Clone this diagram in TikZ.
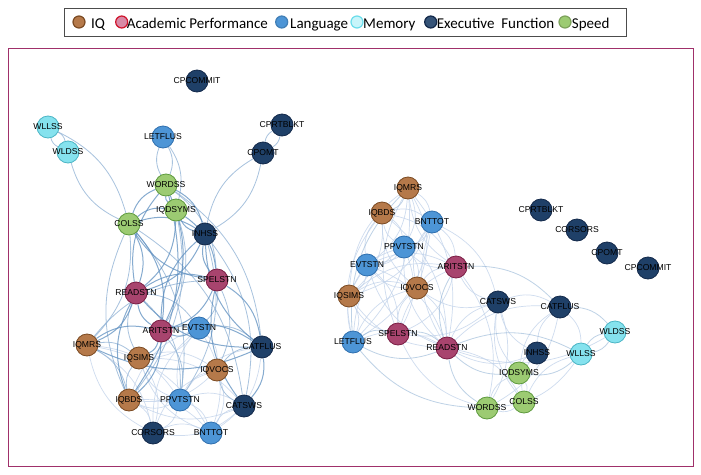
\documentclass[tikz,border=0pt]{standalone}
\usepackage{fontspec}
\setmainfont{Liberation Sans}
\newfontfamily\legendfont{Carlito}
\pgfdeclarelayer{bg}
\pgfdeclarelayer{edges}
\pgfsetlayers{bg,edges,main}
\definecolor{iqF}{HTML}{B5794A}\definecolor{iqD}{HTML}{7B4A22}
\definecolor{acF}{HTML}{A8446E}\definecolor{acD}{HTML}{7A1E44}
\definecolor{lgF}{HTML}{4D95D6}\definecolor{lgD}{HTML}{2F6FAE}
\definecolor{mmF}{HTML}{85E2EE}\definecolor{mmD}{HTML}{4BB5C5}
\definecolor{exF}{HTML}{1F4068}\definecolor{exD}{HTML}{13294A}
\definecolor{spF}{HTML}{9CCB72}\definecolor{spD}{HTML}{5E9A3E}
\definecolor{frm}{HTML}{A0306A}
\definecolor{eS}{HTML}{5E8FC0}\definecolor{eM}{HTML}{93B4D6}\definecolor{eP}{HTML}{C3D4EB}
\definecolor{lacF}{HTML}{D88AA6}\definecolor{lacD}{HTML}{D0142C}
\definecolor{lmmF}{HTML}{C8F5FA}\definecolor{lmmD}{HTML}{6BDDEB}
\begin{document}
\begin{tikzpicture}[x=1pt,y=-1pt,
  vtx/.style={circle,minimum size=22pt,inner sep=0pt,line width=0.8pt,
    font=\fontsize{8.6}{8.6}\selectfont,text=black},
  iq/.style={vtx,fill=iqF,draw=iqD},
  ac/.style={vtx,fill=acF,draw=acD},
  lg/.style={vtx,fill=lgF,draw=lgD},
  mm/.style={vtx,fill=mmF,draw=mmD},
  ex/.style={vtx,fill=exF,draw=exD},
  sp/.style={vtx,fill=spF,draw=spD},
  lgc/.style={circle,minimum size=12pt,inner sep=0pt,line width=1.2pt},
  lgt/.style={anchor=base west,inner sep=0pt,font=\legendfont\fontsize{15}{15}\selectfont},
  eStrong/.style={draw=eS,line width=1pt,draw opacity=0.75},
  eMid/.style={draw=eM,line width=0.8pt,draw opacity=0.8},
  ePale/.style={draw=eP,line width=0.7pt,draw opacity=0.8}]
\useasboundingbox (0,0) rectangle (701,474);
\begin{pgfonlayer}{bg}
\fill[white] (0,0) rectangle (701,474);
\end{pgfonlayer}
% frames
\draw[frm,line width=0.9pt] (8,48) rectangle (693,466);
\draw[black!70,line width=0.8pt] (64,8) rectangle (626,36);
% legend
\node[lgc,fill=iqF,draw=iqD] (kiq) at (79,22) {};
\node[lgt] (tiq) at (91,28.3) {IQ};
\node[lgc,fill=lacF,draw=lacD] (kac) at (121.7,22) {};
\node[lgt] (tac) at (126.7,28.3) {Academic Performance};
\node[lgc,fill=lgF,draw=lgF!85!black] (klg) at (281.7,22) {};
\node[lgt] (tlg) at (290,28.3) {Language};
\node[lgc,fill=lmmF,draw=lmmD] (kmm) at (357,22) {};
\node[lgt] (tmm) at (363,28.3) {Memory};
\node[lgc,fill=exF!90!white,draw=exD] (kex) at (430.7,22) {};
\node[lgt] (tex) at (436.7,28.3) {Executive\ \ Function};
\node[lgc,fill=spF,draw=spF!80!black] (ksp) at (565,22) {};
\node[lgt] (tsp) at (571.7,28.3) {Speed};
% left network nodes
\node[ex] (Lcpcommit) at (197,81) {\makebox[0pt]{CPCOMMIT}};
\node[mm] (Lwllss) at (48,127) {\makebox[0pt]{WLLSS}};
\node[mm] (Lwldss) at (68,152) {\makebox[0pt]{WLDSS}};
\node[lg] (Lletflus) at (163,137) {\makebox[0pt]{LETFLUS}};
\node[ex] (Lcprtblkt) at (282,125) {\makebox[0pt]{CPRTBLKT}};
\node[ex] (Lcpomt) at (263,153) {\makebox[0pt]{CPOMT}};
\node[sp] (Lwordss) at (166,185) {\makebox[0pt]{WORDSS}};
\node[sp] (Liqdsyms) at (176,210) {\makebox[0pt]{IQDSYMS}};
\node[sp] (Lcolss) at (129,224) {\makebox[0pt]{COLSS}};
\node[ex] (Linhss) at (205,234) {\makebox[0pt]{INHSS}};
\node[ac] (Lreadstn) at (136,293) {\makebox[0pt]{READSTN}};
\node[ac] (Lspelstn) at (217,280) {\makebox[0pt]{SPELSTN}};
\node[ac] (Laritstn) at (161,331) {\makebox[0pt]{ARITSTN}};
\node[lg] (Levtstn) at (199,328) {\makebox[0pt]{EVTSTN}};
\node[iq] (Liqmrs) at (87,345) {\makebox[0pt]{IQMRS}};
\node[iq] (Liqsims) at (139,358) {\makebox[0pt]{IQSIMS}};
\node[ex] (Lcatflus) at (262,347) {\makebox[0pt]{CATFLUS}};
\node[iq] (Liqvocs) at (217,370) {\makebox[0pt]{IQVOCS}};
\node[iq] (Liqbds) at (129,400) {\makebox[0pt]{IQBDS}};
\node[lg] (Lppvtstn) at (180,400) {\makebox[0pt]{PPVTSTN}};
\node[ex] (Lcatsws) at (244,406) {\makebox[0pt]{CATSWS}};
\node[ex] (Lcorsors) at (153,433) {\makebox[0pt]{CORSORS}};
\node[lg] (Lbnttot) at (211,433) {\makebox[0pt]{BNTTOT}};
% right network nodes
\node[iq] (Riqmrs) at (408,188) {\makebox[0pt]{IQMRS}};
\node[iq] (Riqbds) at (382,213) {\makebox[0pt]{IQBDS}};
\node[lg] (Rbnttot) at (432,222) {\makebox[0pt]{BNTTOT}};
\node[lg] (Rppvtstn) at (404,247) {\makebox[0pt]{PPVTSTN}};
\node[lg] (Revtstn) at (367,265) {\makebox[0pt]{EVTSTN}};
\node[ac] (Raritstn) at (456,267) {\makebox[0pt]{ARITSTN}};
\node[iq] (Riqvocs) at (417,288) {\makebox[0pt]{IQVOCS}};
\node[iq] (Riqsims) at (349,296) {\makebox[0pt]{IQSIMS}};
\node[ex] (Rcatsws) at (498,302) {\makebox[0pt]{CATSWS}};
\node[ex] (Rcatflus) at (560,307) {\makebox[0pt]{CATFLUS}};
\node[ac] (Rspelstn) at (398,334) {\makebox[0pt]{SPELSTN}};
\node[lg] (Rletflus) at (353,342) {\makebox[0pt]{LETFLUS}};
\node[ac] (Rreadstn) at (447,348) {\makebox[0pt]{READSTN}};
\node[mm] (Rwldss) at (615,332) {\makebox[0pt]{WLDSS}};
\node[ex] (Rinhss) at (537,353) {\makebox[0pt]{INHSS}};
\node[mm] (Rwllss) at (581,354) {\makebox[0pt]{WLLSS}};
\node[sp] (Riqdsyms) at (519,373) {\makebox[0pt]{IQDSYMS}};
\node[sp] (Rcolss) at (524,402) {\makebox[0pt]{COLSS}};
\node[sp] (Rwordss) at (487,408) {\makebox[0pt]{WORDSS}};
\node[ex] (Rcprtblkt) at (541,210) {\makebox[0pt]{CPRTBLKT}};
\node[ex] (Rcorsors) at (577,230) {\makebox[0pt]{CORSORS}};
\node[ex] (Rcpomt) at (607,253) {\makebox[0pt]{CPOMT}};
\node[ex] (Rcpcommit) at (648,268) {\makebox[0pt]{CPCOMMIT}};
% edges
\begin{pgfonlayer}{edges}
\foreach \a/\b in {ppvtstn/bnttot,ppvtstn/evtstn,ppvtstn/iqvocs,ppvtstn/iqsims,ppvtstn/iqbds,
  ppvtstn/corsors,ppvtstn/catsws,iqvocs/bnttot,evtstn/iqvocs,iqsims/iqvocs,corsors/iqvocs,
  iqbds/corsors,iqbds/bnttot,corsors/bnttot,catsws/corsors,bnttot/catsws,evtstn/iqsims,
  evtstn/bnttot,iqbds/evtstn,iqsims/corsors,iqmrs/corsors,iqmrs/ppvtstn,catflus/bnttot,
  ppvtstn/catflus,iqsims/catsws,iqmrs/bnttot,corsors/iqmrs,bnttot/iqsims,corsors/evtstn,
  catsws/iqbds,iqvocs/iqbds}
  \draw[ePale] (L\a) to[bend left=24] (L\b);
\foreach \a/\b in {letflus/wordss,wordss/letflus,letflus/iqdsyms,wldss/wllss,wllss/wldss,
  colss/wldss,wllss/colss,cprtblkt/cpomt,cpomt/cprtblkt,inhss/cpomt,cpomt/inhss,
  colss/iqmrs,iqbds/colss,wordss/spelstn,iqdsyms/aritstn,iqmrs/iqbds,iqmrs/spelstn,
  inhss/catsws,evtstn/catflus,iqvocs/catflus,spelstn/iqvocs,aritstn/ppvtstn,readstn/ppvtstn,
  iqsims/readstn,iqmrs/iqsims,iqbds/iqsims,catsws/iqvocs,colss/ppvtstn,wordss/catflus,
  iqdsyms/iqbds,spelstn/evtstn,readstn/evtstn,inhss/ppvtstn,colss/catsws}
  \draw[eMid] (L\a) to[bend left=24] (L\b);
\foreach \a/\b in {readstn/spelstn,aritstn/readstn,spelstn/aritstn,aritstn/catflus,catflus/iqmrs,
  iqmrs/aritstn,readstn/iqmrs,catflus/readstn,spelstn/catflus,inhss/readstn,spelstn/inhss,
  aritstn/inhss,colss/readstn,spelstn/colss,readstn/wordss,wordss/aritstn,iqdsyms/readstn,
  iqdsyms/spelstn,catflus/inhss,colss/inhss,wordss/inhss,inhss/iqdsyms,colss/wordss,
  iqdsyms/wordss,colss/iqdsyms,iqbds/readstn,aritstn/iqbds,catsws/spelstn,catflus/catsws,
  evtstn/aritstn,aritstn/iqsims,colss/aritstn,wordss/iqbds}
  \draw[eStrong] (L\a) to[bend left=24] (L\b);
\foreach \a/\b in {iqmrs/bnttot,iqmrs/ppvtstn,iqmrs/evtstn,aritstn/iqmrs,iqmrs/iqvocs,
  iqsims/iqmrs,iqmrs/letflus,spelstn/iqmrs,iqmrs/readstn,iqbds/bnttot,iqbds/ppvtstn,
  evtstn/iqbds,iqbds/iqsims,iqbds/aritstn,iqvocs/iqbds,letflus/iqbds,iqbds/readstn,
  bnttot/ppvtstn,bnttot/aritstn,iqvocs/bnttot,bnttot/evtstn,readstn/bnttot,ppvtstn/evtstn,
  aritstn/ppvtstn,ppvtstn/iqvocs,iqsims/ppvtstn,ppvtstn/spelstn,readstn/ppvtstn,
  letflus/ppvtstn,evtstn/iqsims,iqvocs/evtstn,letflus/evtstn,evtstn/spelstn,readstn/evtstn,
  evtstn/aritstn,iqvocs/aritstn,aritstn/spelstn,catsws/aritstn,iqsims/aritstn,iqsims/iqvocs,
  spelstn/iqvocs,iqvocs/readstn,letflus/iqvocs,iqsims/letflus,spelstn/iqsims,readstn/iqsims,
  readstn/catsws,readstn/catflus,wldss/readstn,readstn/colss,inhss/readstn,wordss/spelstn,
  catsws/spelstn,inhss/catsws,iqdsyms/catsws,colss/catsws,catsws/catflus,catflus/wllss,
  inhss/catflus,iqdsyms/catflus,wordss/iqdsyms,iqdsyms/colss,colss/wordss,iqdsyms/inhss,
  colss/inhss,aritstn/wordss,catsws/iqvocs,catflus/wordss,wllss/wordss,colss/wllss,
  catsws/wordss,bnttot/catsws,bnttot/iqsims,bnttot/letflus,ppvtstn/iqbds,evtstn/readstn,
  spelstn/aritstn,letflus/readstn}
  \draw[ePale] (R\a) to[bend left=24] (R\b);
\foreach \a/\b in {readstn/wllss,aritstn/catflus,catflus/wldss,wldss/wllss,wllss/wldss,
  wllss/iqdsyms,iqdsyms/readstn,readstn/letflus,spelstn/readstn,letflus/spelstn,
  readstn/aritstn,wordss/readstn,iqmrs/iqbds,letflus/iqmrs,wordss/letflus}
  \draw[eMid,draw opacity=0.6] (R\a) to[bend left=24] (R\b);
\end{pgfonlayer}
\end{tikzpicture}
\end{document}
